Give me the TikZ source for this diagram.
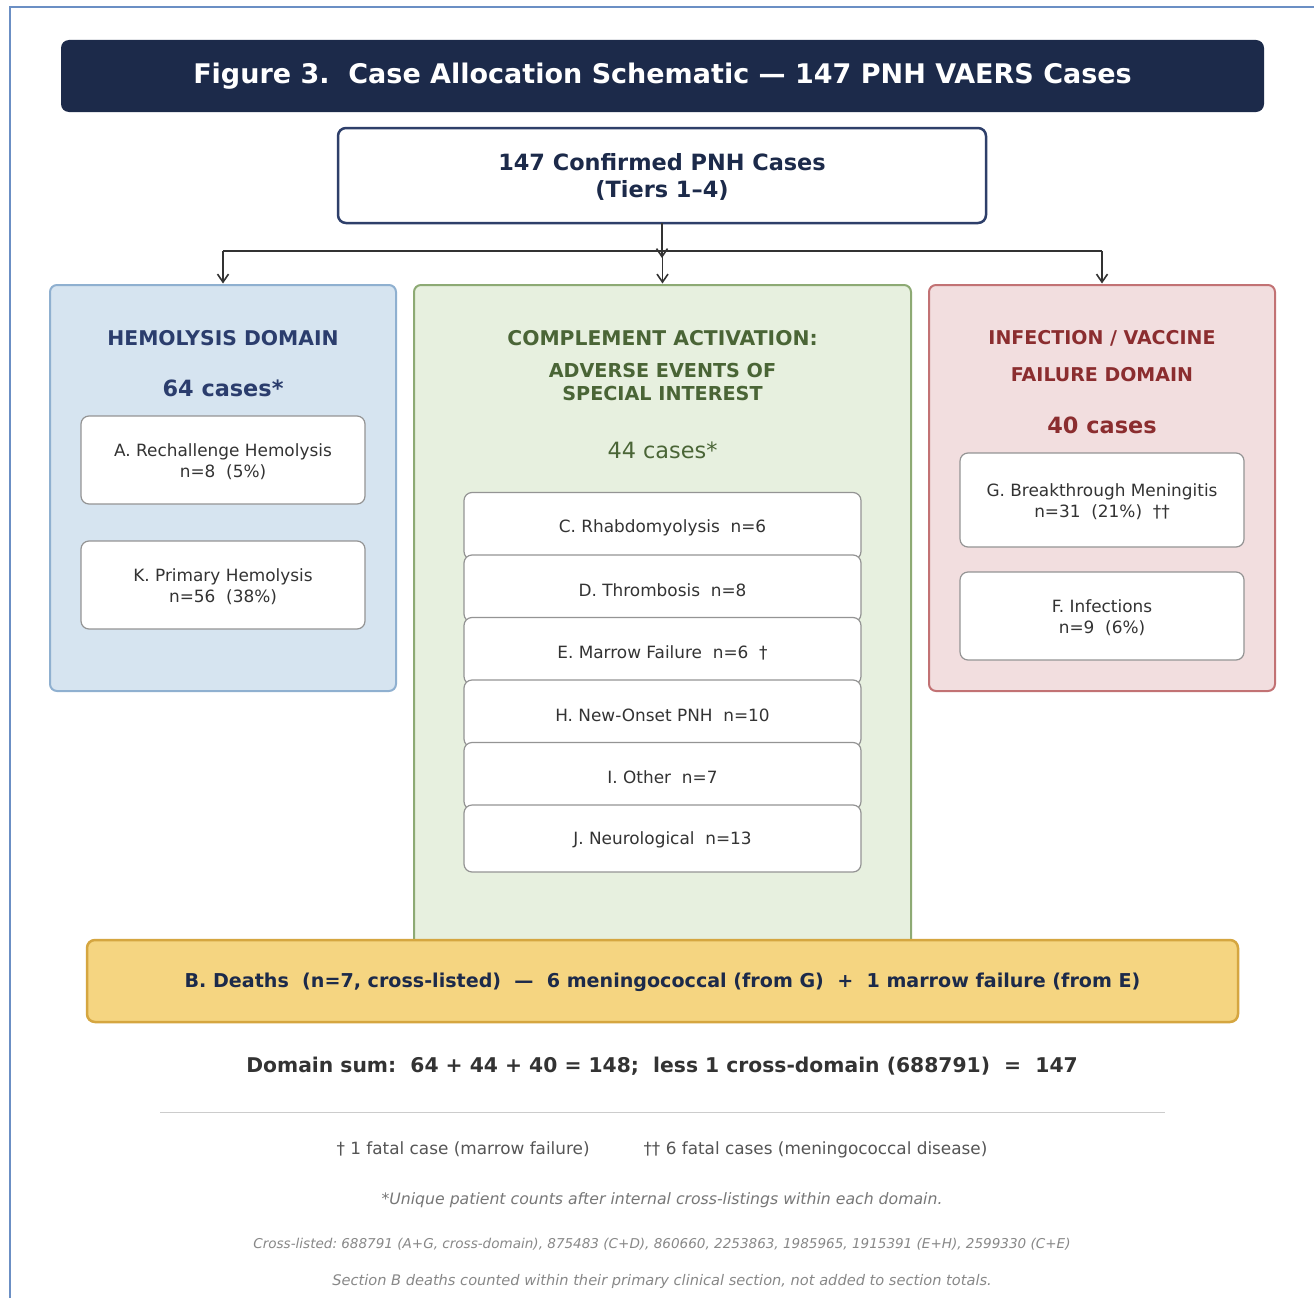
\documentclass[tikz,border=0pt]{standalone}
\usepackage{fontspec}
\setmainfont{DejaVu Sans}
\usetikzlibrary{arrows.meta}
\definecolor{navy}{HTML}{1C2A4A}
\definecolor{topborder}{HTML}{2E3F6A}
\definecolor{hemotxt}{HTML}{2B3D6D}
\definecolor{hemofill}{HTML}{D6E4F0}
\definecolor{hemoline}{HTML}{8FB0D0}
\definecolor{comptxt}{HTML}{4A6536}
\definecolor{compfill}{HTML}{E7F0DF}
\definecolor{compline}{HTML}{8DAA74}
\definecolor{inftxt}{HTML}{8B2D2F}
\definecolor{inffill}{HTML}{F2DEDF}
\definecolor{infline}{HTML}{C27274}
\definecolor{deathfill}{HTML}{F5D581}
\definecolor{deathline}{HTML}{D5A640}
\definecolor{itemline}{HTML}{949494}
\definecolor{bodytxt}{HTML}{333333}
\definecolor{frameline}{HTML}{6B8FC4}
\definecolor{notetxt}{HTML}{555555}
\definecolor{noteitx}{HTML}{777777}
\definecolor{notesmall}{HTML}{888888}
\definecolor{ruleline}{HTML}{CCCCCC}
\newcommand\fsz[2]{\fontsize{#1}{#2}\selectfont}
\frenchspacing
\tikzset{
  every node/.style={inner sep=0pt, outer sep=0pt, align=center},
  titlebar/.style={fill=navy, rounded corners=8, minimum width=1203, minimum height=72, text=white, font=\fsz{27}{32}\bfseries},
  topbox/.style={draw=topborder, line width=2.5, fill=white, rounded corners=8, minimum width=648, minimum height=95, text=navy, font=\fsz{22.4}{27}\bfseries},
  domainbox/.style={line width=2, rounded corners=7},
  item/.style={draw=itemline, fill=white, line width=1.2, rounded corners=8, text=bodytxt, font=\fsz{16.9}{20.5}\selectfont},
  hdr/.style={font=\fsz{20.3}{24}\bfseries},
  arr/.style={draw=bodytxt, line width=1.6, -{Straight Barb[length=8, width=11, line width=1.6]}},
  plain/.style={draw=bodytxt, line width=1.6},
}
\begin{document}
\begin{tikzpicture}[x=1pt,y=-1pt]
\useasboundingbox (0,0) rectangle (1314,1298);
\fill[white] (0,0) rectangle (1314,1298);
\draw[frameline, line width=1.5] (10,1298) -- (10,7) -- (1314,7);

% title
\node[titlebar] (title) at (662.5,76) {};
\node[text=white, font=\fsz{27}{32}\bfseries] (titletext) at (662.5,76.5) {Figure 3.\ \ Case Allocation Schematic — 147 PNH VAERS Cases};

% top box
\node[topbox, text height=0pt, text depth=0pt] (top) at (662,175.5) {};
\node[text=navy, font=\fsz{22.4}{27}\bfseries] (toptext) at (662,176.5) {147 Confirmed PNH Cases\\(Tiers 1–4)};

% domain boxes
\node[domainbox, draw=hemoline, fill=hemofill, minimum width=346, minimum height=406] (hemo) at (223,488) {};
\node[domainbox, draw=compline, fill=compfill, minimum width=497, minimum height=675] (comp) at (662.5,622.5) {};
\node[domainbox, draw=infline, fill=inffill, minimum width=346, minimum height=406] (inf) at (1102,488) {};

% connectors
\coordinate (split) at (662,251);
\draw[arr] (top.south) -- ([yshift=-7]split);
\draw[plain] (hemo.north |- split) -- (inf.north |- split);
\draw[arr, shorten >=1.5] (hemo.north |- split) -- (hemo.north);
\draw[arr, shorten >=1.5] (comp.north |- split) -- (comp.north);
\draw[arr, shorten >=1.5] (inf.north |- split) -- (inf.north);

% hemolysis domain
\node[hdr, text=hemotxt] (hemot) at (223,338) {HEMOLYSIS DOMAIN};
\node[font=\fsz{22.4}{27}\bfseries, text=hemotxt] (hemon) at (223,388) {64 cases*};
\node[item, minimum width=284, minimum height=88] (A) at (223,460) {};
\node[item, draw=none, fill=none] (Atext) at (223,461.5) {A. Rechallenge Hemolysis\\n=8\ \ (5\%)};
\node[item, minimum width=284, minimum height=88] (K) at (223,585) {};
\node[item, draw=none, fill=none] (Ktext) at (223,586.5) {K. Primary Hemolysis\\n=56\ \ (38\%)};

% complement domain
\node[hdr, text=comptxt] (compt) at (662.5,338) {COMPLEMENT ACTIVATION:};
\node[font=\fsz{19.2}{23}\bfseries, text=comptxt] (comps) at (662.5,382.5) {ADVERSE EVENTS OF\\SPECIAL INTEREST};
\node[font=\fsz{22.4}{27}\selectfont, text=comptxt] (compn) at (662.5,450) {44 cases*};
\node[item, minimum width=397, minimum height=67] (C) at (662.5,526) {};
\node[item, draw=none, fill=none] (Ctext) at (662.5,527.5) {C. Rhabdomyolysis\ \ n=6};
\node[item, minimum width=397, minimum height=67] (D) at (662.5,588.5) {};
\node[item, draw=none, fill=none] (Dtext) at (662.5,590) {D. Thrombosis\ \ n=8};
\node[item, minimum width=397, minimum height=67] (E) at (662.5,651) {};
\node[item, draw=none, fill=none] (Etext) at (662.5,652.5) {E. Marrow Failure\ \ n=6\ \ †};
\node[item, minimum width=397, minimum height=67] (H) at (662.5,713.5) {};
\node[item, draw=none, fill=none] (Htext) at (662.5,715) {H. New-Onset PNH\ \ n=10};
\node[item, minimum width=397, minimum height=67] (I) at (662.5,776) {};
\node[item, draw=none, fill=none] (Itext) at (662.5,777.5) {I. Other\ \ n=7};
\node[item, minimum width=397, minimum height=67] (J) at (662.5,838.5) {};
\node[item, draw=none, fill=none] (Jtext) at (662.5,840) {J. Neurological\ \ n=13};

% infection domain
\node[font=\fsz{19}{37}\bfseries, text=inftxt] (inft) at (1102,356.5) {INFECTION / VACCINE\\FAILURE DOMAIN};
\node[font=\fsz{22.4}{27}\bfseries, text=inftxt] (infn) at (1102,425) {40 cases};
\node[item, minimum width=284, minimum height=94] (G) at (1102,500) {};
\node[item, draw=none, fill=none] (Gtext) at (1102,501.5) {G. Breakthrough Meningitis\\n=31\ \ (21\%)\ \ ††};
\node[item, minimum width=284, minimum height=88] (F) at (1102,616) {};
\node[item, draw=none, fill=none] (Ftext) at (1102,617.5) {F. Infections\\n=9\ \ (6\%)};

% deaths
\node[draw=deathline, fill=deathfill, line width=2.5, rounded corners=8, minimum width=1151, minimum height=82] (B) at (662.5,981) {};
\node[text=navy, font=\fsz{19.1}{23}\bfseries] (Btext) at (662.5,982) {B. Deaths\ \ (n=7, cross-listed)\ \ —\ \ 6 meningococcal (from G)\ \ +\ \ 1 marrow failure (from E)};

% sums and notes
\node[font=\fsz{20.3}{24}\bfseries, text=bodytxt] (sum) at (662,1066) {Domain sum:\ \ 64 + 44 + 40 = 148;\ \ less 1 cross-domain (688791)\ \ =\ \ 147};
\coordinate (rl) at (160,1112);
\coordinate (rr) at (1165,1112);
\draw[ruleline, line width=1] (rl) -- (rr);
\node[font=\fsz{16.85}{20}\selectfont, text=notetxt] (dag) at (662,1150) {† 1 fatal case (marrow failure)\hspace{54pt}†† 6 fatal cases (meningococcal disease)};
\node[font=\fsz{15.7}{19}\itshape, text=noteitx] (uniq) at (662,1200) {*Unique patient counts after internal cross-listings within each domain.};
\node[font=\fsz{13.55}{16}\itshape, text=notesmall] (cross) at (662,1244) {Cross-listed: 688791 (A+G, cross-domain), 875483 (C+D), 860660, 2253863, 1985965, 1915391 (E+H), 2599330 (C+E)};
\node[font=\fsz{14.6}{17}\itshape, text=notesmall] (secb) at (662,1281) {Section B deaths counted within their primary clinical section, not added to section totals.};
\end{tikzpicture}
\end{document}
